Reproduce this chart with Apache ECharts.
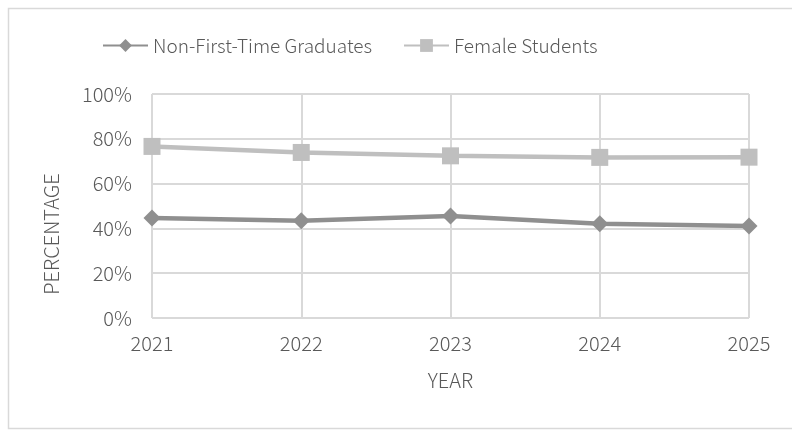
<!DOCTYPE html>
<html>
<head>
<meta charset="utf-8">
<script src="https://cdn.jsdelivr.net/npm/echarts@6/dist/echarts.min.js"></script>
<style>
  html, body { margin: 0; padding: 0; background: #fff; }
  #chart { width: 792px; height: 430px; }
</style>
</head>
<body>
<div id="chart"></div>
<script>
// Category axis and series values (percent)
const years = ['2021', '2022', '2023', '2024', '2025'];
const nonFirstTime = [44.6, 43.4, 45.5, 42.1, 41.1];
const femaleStudents = [76.6, 73.9, 72.4, 71.7, 71.8];
const yTicks = [0, 20, 40, 60, 80, 100];
const seriesNames = ['Non-First-Time Graduates', 'Female Students'];

const FONT = '"Noto Sans CJK SC", sans-serif';
const TEXT = '#595959';
const W = 300;

const chart = echarts.init(document.getElementById('chart'), null, { renderer: 'canvas' });

const legendText = { fontFamily: FONT, fontSize: 19, fontWeight: W, color: TEXT };

chart.setOption({
  animation: false,
  backgroundColor: '#ffffff',
  textStyle: { fontFamily: FONT, fontWeight: W },
  grid: { left: 152, right: 43, top: 94, bottom: 112, containLabel: false },
  legend: [
    {
      top: 31, left: 97,
      itemWidth: 45, itemHeight: 16,
      textStyle: legendText,
      data: [seriesNames[0]]
    },
    {
      top: 31, left: 398,
      itemWidth: 45, itemHeight: 16,
      textStyle: legendText,
      data: [seriesNames[1]]
    }
  ],
  xAxis: {
    type: 'category',
    data: years,
    boundaryGap: false,
    axisLine: { show: false },
    axisTick: { show: false },
    splitLine: { show: true, lineStyle: { color: '#d9d9d9', width: 2 } },
    axisLabel: { fontFamily: FONT, fontSize: 20, fontWeight: W, color: TEXT, margin: 15 },
    name: 'YEAR',
    nameLocation: 'middle',
    nameGap: 52,
    nameTextStyle: { fontFamily: FONT, fontSize: 20, fontWeight: W, color: TEXT }
  },
  yAxis: {
    type: 'value',
    min: yTicks[0],
    max: yTicks[yTicks.length - 1],
    interval: 20,
    axisLine: { show: false },
    axisTick: { show: false },
    splitLine: { show: true, lineStyle: { color: '#d9d9d9', width: 2 } },
    axisLabel: { fontFamily: FONT, fontSize: 20, fontWeight: W, color: TEXT, margin: 20, formatter: '{value}%' }
  },
  graphic: [
    {
      type: 'rect',
      shape: { x: 8.5, y: 8.5, width: 800, height: 420 },
      style: { fill: 'none', stroke: '#d9d9d9', lineWidth: 1.5 },
      silent: true
    },
    {
      type: 'text',
      x: 51, y: 234,
      rotation: Math.PI / 2,
      style: {
        text: 'PERCENTAGE',
        font: W + ' 20px ' + FONT,
        fill: TEXT,
        align: 'center',
        verticalAlign: 'middle'
      }
    }
  ],
  series: [
    {
      name: seriesNames[0],
      type: 'line',
      data: nonFirstTime,
      symbol: 'diamond',
      symbolSize: 17,
      itemStyle: { color: '#8f8f8f' },
      lineStyle: { color: '#8f8f8f', width: 4.5 },
      z: 3
    },
    {
      name: seriesNames[1],
      type: 'line',
      data: femaleStudents,
      symbol: 'rect',
      symbolSize: 17,
      itemStyle: { color: '#bfbfbf' },
      lineStyle: { color: '#bfbfbf', width: 4.5 },
      z: 2
    }
  ]
});
</script>
</body>
</html>
